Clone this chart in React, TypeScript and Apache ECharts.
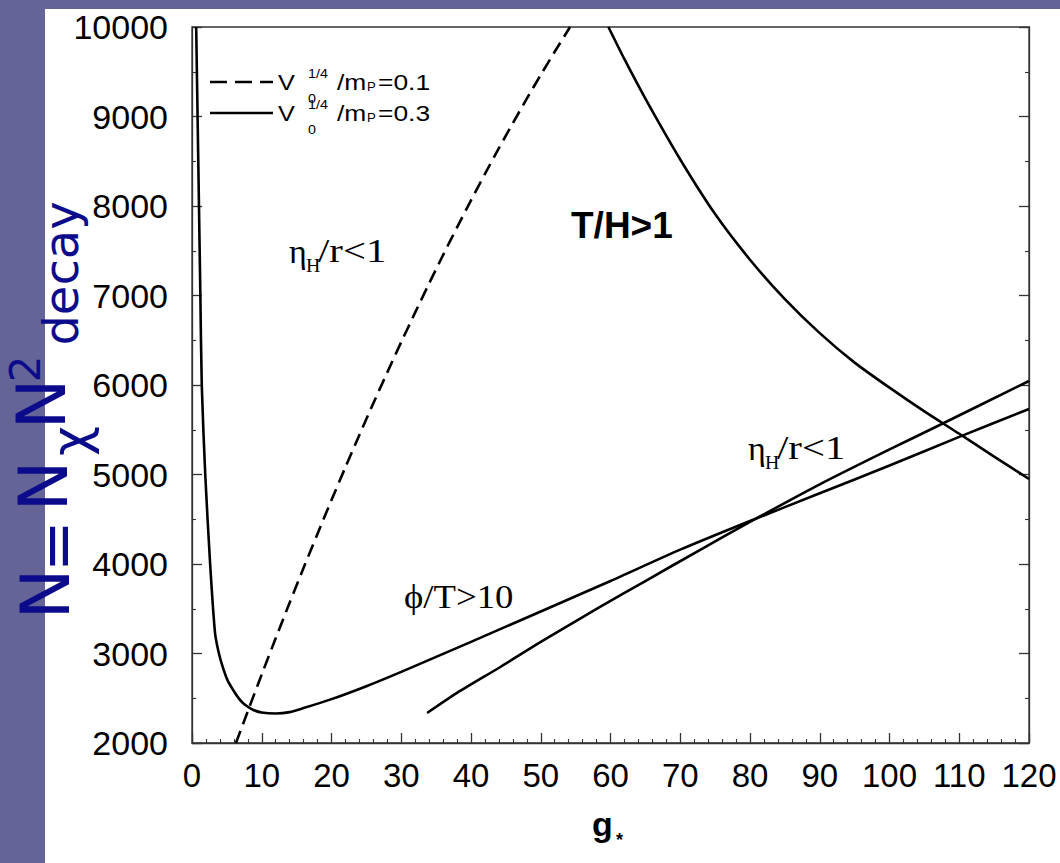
import React, { useEffect, useRef } from "react";
import * as echarts from "echarts";

// ---- data (g*, N) ----
const xTicks = [0, 10, 20, 30, 40, 50, 60, 70, 80, 90, 100, 110, 120];
const yTicks = [2000, 3000, 4000, 5000, 6000, 7000, 8000, 9000, 10000];

// V0^{1/4}/mP = 0.1 (dashed)
const dashedV01: [number, number][] = [
  [6.3, 2000], [8, 2355], [10, 2767], [12, 3171], [14, 3568], [16, 3957], [18, 4339],
  [20, 4714], [22, 5082], [24, 5442], [26, 5796], [28, 6141], [30, 6480], [32, 6811],
  [34, 7135], [36, 7452], [38, 7761], [40, 8063], [42, 8358], [44, 8646], [46, 8926],
  [48, 9199], [50, 9465], [52, 9723], [54.2, 10000],
];

// V0^{1/4}/mP = 0.3 (solid): eta_H/r<1 / phi/T>10 boundary
const leftBranchV03: [number, number][] = [
  [0.6, 10000], [0.8, 9000], [1.0, 8000], [1.2, 7000], [1.4, 6000], [1.9, 5000],
  [2.6, 4000], [3.3, 3230], [3.8, 3020], [4.4, 2850], [5.1, 2700], [5.9, 2592],
  [6.6, 2510], [7.3, 2447], [8.0, 2405], [8.8, 2369], [10, 2340], [12, 2330],
  [14, 2345], [16, 2390], [20, 2490], [25, 2635], [30, 2795], [40, 3130],
  [50, 3470], [60, 3810], [70, 4160], [80, 4480], [90, 4790], [100, 5100],
  [110, 5420], [120, 5732],
];

// V0^{1/4}/mP = 0.3 (solid): eta_H/r<1 lower line
const steepLineV03: [number, number][] = [
  [33.7, 2335], [38, 2560], [44.2, 2849], [50, 3130], [58.5, 3520], [65, 3810],
  [72.8, 4156], [80, 4470], [90, 4890], [100, 5280], [107.2, 5553], [120, 6045],
];

// V0^{1/4}/mP = 0.3 (solid): T/H>1 boundary
const thCurveV03: [number, number][] = [
  [59.7, 10000], [62, 9640], [65, 9200], [70, 8520], [75, 7910], [80, 7400],
  [85, 6960], [90, 6580], [95, 6250], [100, 5970], [105, 5705], [110, 5455],
  [115, 5200], [120, 4950],
];

const SANS = "Liberation Sans, Arial, Helvetica, sans-serif";
const SERIF = "Liberation Serif, DejaVu Serif, Times New Roman, serif";
const TITLE = "DejaVu Sans, sans-serif";
const NAVY = "#0b0b8c";
const AXIS = "#333";

function txt(x: number, y: number, text: string, fontSize: number, opts: any = {}) {
  return {
    type: "text",
    x,
    y,
    rotation: opts.rotation || 0,
    scaleX: opts.scaleX || 1,
    z: 100,
    style: {
      text,
      fontSize,
      fontFamily: opts.fontFamily || SANS,
      fontWeight: opts.fontWeight || "normal",
      fill: opts.fill || "#000",
      align: opts.align || "left",
      verticalAlign: "middle",
    },
  };
}

function makeAxis(kind: "x" | "y", secondary: boolean) {
  const isX = kind === "x";
  const ticks = isX ? xTicks : yTicks;
  const axis: any = {
    type: "value",
    min: ticks[0],
    max: ticks[ticks.length - 1],
    interval: ticks[1] - ticks[0],
    axisLine: { show: true, lineStyle: { color: AXIS, width: 1.3 } },
    axisTick: { show: true, inside: true, length: 10, lineStyle: { color: AXIS, width: 1.3 } },
    minorTick: { show: true, splitNumber: isX ? 5 : 2, length: 4, lineStyle: { color: AXIS, width: 1.1 } },
    splitLine: { show: false },
    axisLabel: secondary
      ? { show: false }
      : isX
      ? { show: true, margin: 16, fontSize: 33, fontFamily: SANS, color: "#000", formatter: (v: number) => String(v) }
      : { show: true, margin: 24, fontSize: 34, fontFamily: SANS, color: "#000", formatter: (v: number) => String(v) },
  };
  if (secondary) axis.position = isX ? "top" : "right";
  return axis;
}

export default function App() {
  const ref = useRef<HTMLDivElement>(null);

  useEffect(() => {
    if (!ref.current) return;
    const chart = echarts.init(ref.current, null, { renderer: "svg" });

    const lineSeries = (name: string, data: [number, number][], dashed: boolean) => ({
      name,
      type: "line",
      data,
      showSymbol: false,
      smooth: 0.25,
      clip: true,
      lineStyle: { color: "#000", width: 2.6, type: dashed ? [13, 7] : "solid" },
      z: 5,
    });

    const legendLine = (y: number, val: string) => [
      txt(278, y - 7.6, "V", 22, { scaleX: 1.15 }),
      txt(308, y + 8.5, "0", 13, { scaleX: 1.1 }),
      txt(308, y - 16.5, "1/4", 13, { scaleX: 1.1 }),
      txt(337, y - 7.6, "/m", 22, { scaleX: 1.2 }),
      txt(367, y - 2.5, "P", 12, { scaleX: 1.1 }),
      txt(378, y - 7.6, "=" + val, 22, { scaleX: 1.2 }),
    ];

    const rot = { fontFamily: TITLE, fill: NAVY, rotation: Math.PI / 2, align: "center" };

    const graphic: any[] = [
      // legend samples
      { type: "line", z: 100, shape: { x1: 210, y1: 82, x2: 273, y2: 82 }, style: { stroke: "#000", lineWidth: 2.5, lineDash: [17, 8] } },
      { type: "line", z: 100, shape: { x1: 210, y1: 113, x2: 273, y2: 113 }, style: { stroke: "#000", lineWidth: 2.5 } },
      ...legendLine(90, "0.1"),
      ...legendLine(121, "0.3"),
      // region labels
      txt(289, 251, "η", 34, { fontFamily: SERIF }),
      txt(306, 266, "H", 18, { fontFamily: SERIF, scaleX: 1.1 }),
      txt(318, 250.5, "/r<1", 34, { fontFamily: SERIF, scaleX: 1.2 }),
      txt(748, 448, "η", 34, { fontFamily: SERIF }),
      txt(765, 463, "H", 18, { fontFamily: SERIF, scaleX: 1.1 }),
      txt(777, 447.5, "/r<1", 34, { fontFamily: SERIF, scaleX: 1.2 }),
      txt(404, 596.5, "ϕ/T>10", 34, { fontFamily: SERIF, scaleX: 1.08 }),
      txt(571, 225, "T/H>1", 37, { fontWeight: "bold" }),
      // x axis name g*
      txt(592, 824, "g", 34, { fontWeight: "bold" }),
      txt(616, 840, "*", 18, { fontWeight: "bold" }),
      // y axis title N = N_chi N^2_decay (rotated)
      txt(45, 594, "N", 68, rot),
      txt(57, 546, "=", 62, rot),
      txt(43, 486, "N", 68, rot),
      txt(70, 441, "χ", 52, rot),
      txt(41, 404, "N", 68, rot),
      txt(25, 369, "2", 42, rot),
      txt(61, 273.5, "decay", 48, rot),
    ];

    chart.setOption({
      animation: false,
      grid: {
        left: 192, right: 31, top: 27, bottom: 120, containLabel: false,
        show: true, borderColor: AXIS, borderWidth: 1.3, backgroundColor: "transparent",
      },
      xAxis: makeAxis("x", false),
      yAxis: [makeAxis("y", false), makeAxis("y", true)],
      series: [
        lineSeries("V0^1/4/mP=0.1", dashedV01, true),
        lineSeries("V0^1/4/mP=0.3 (η_H/r, ϕ/T)", leftBranchV03, false),
        lineSeries("V0^1/4/mP=0.3 (η_H/r)", steepLineV03, false),
        lineSeries("V0^1/4/mP=0.3 (T/H)", thCurveV03, false),
      ],
      graphic,
    });

    return () => chart.dispose();
  }, []);

  return (
    <div style={{ position: "fixed", left: 0, top: 0, width: 1060, height: 863, background: "#646498" }}>
      <div style={{ position: "absolute", left: 45, top: 9, right: 0, bottom: 0, background: "#fff" }} />
      <div ref={ref} style={{ position: "absolute", left: 0, top: 0, width: 1060, height: 863 }} />
    </div>
  );
}
